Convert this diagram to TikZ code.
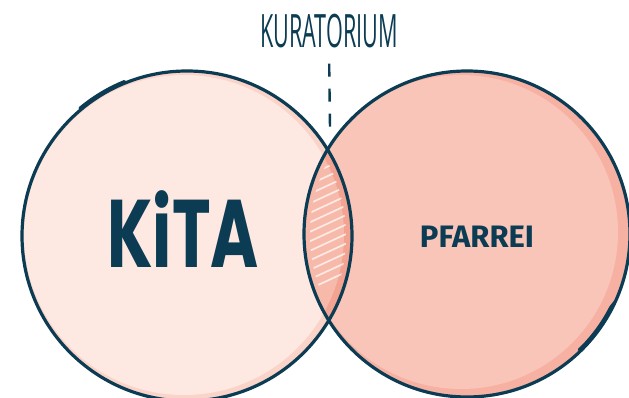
\documentclass[tikz,border=0pt]{standalone}
\usepackage{fontspec}
\usepackage{graphicx}
\newfontfamily\kitafont{Poppins}
\newfontfamily\pfarrfont{Fira Sans}
\newfontfamily\thinfont{Open Sans}
\definecolor{ink}{HTML}{0B3C53}
\definecolor{kitafill}{HTML}{FDE8E2}
\definecolor{kitashade}{HTML}{FBD4C9}
\definecolor{pfarrfill}{HTML}{F9C5B8}
\definecolor{pfarrshade}{HTML}{F6B1A3}
\definecolor{lensfill}{HTML}{F7BAAA}
\definecolor{lensshade}{HTML}{F3A391}
\tikzset{
    ring/.style={draw=ink,line width=3.2pt},
    ringtick/.style={draw=ink,line width=2.4pt,line cap=round},
    dashline/.style={draw=ink,line width=2.4pt,dash pattern=on 13pt off 12pt},
    hatchline/.style={white,opacity=0.7,line width=1.7pt},
    tag/.style={text=ink,inner sep=0pt}
}
\begin{document}
\begin{tikzpicture}[x=1pt,y=1pt]
\useasboundingbox (0,0) rectangle (629,398);
% fills with shade crescents
\fill[kitashade] (187,162) circle (165);
\begin{scope}
\clip (187,162) circle (165);
\fill[kitafill] (184,163) circle (160);
\end{scope}
\fill[pfarrshade] (467,164) circle (163);
\begin{scope}
\clip (467,164) circle (163);
\fill[pfarrfill] (461,166) circle (157);
\end{scope}
% lens
\begin{scope}
\clip (187,162) circle (165);
\clip (467,164) circle (163);
\fill[lensshade] (300,60) rectangle (360,340);
\fill[lensfill] (184,163) circle (160);
\end{scope}
\begin{scope}
\clip (187,162) circle (159);
\clip (467,164) circle (157);
\foreach \y in {100,109.5,...,340}
    \draw[hatchline] (290,\y)--(370,\y+37);
\end{scope}
% outlines
\node[ring,circle,minimum size=330pt] (kita) at (187,162) {};
\node[ring,circle,minimum size=326pt] (pfarrei) at (467,164) {};
\draw[ringtick] (187,162) ++(112:167) arc (112:130:167);
\draw[ringtick] (467,164) ++(-46:161) arc (-46:-27:161) -- ++(4,5);
% labels
\node[tag,anchor=base] (kitatext) at (183,130) {\kitafont\bfseries\fontsize{96}{96}\selectfont\scalebox{0.68}[1]{KiTA}};
\node[tag,anchor=base] (pfarrtext) at (477,150) {\pfarrfont\bfseries\fontsize{31}{31}\selectfont PFARREI};
\node[tag,anchor=base] (kuratorium) at (329,350) {\thinfont\fontsize{46}{46}\selectfont\scalebox{0.47}[1]{KURATORIUM}};
\coordinate (lenstop) at (330,270);
\draw[dashline,shorten <=15pt] (kuratorium.south) -- (lenstop);
\end{tikzpicture}
\end{document}
